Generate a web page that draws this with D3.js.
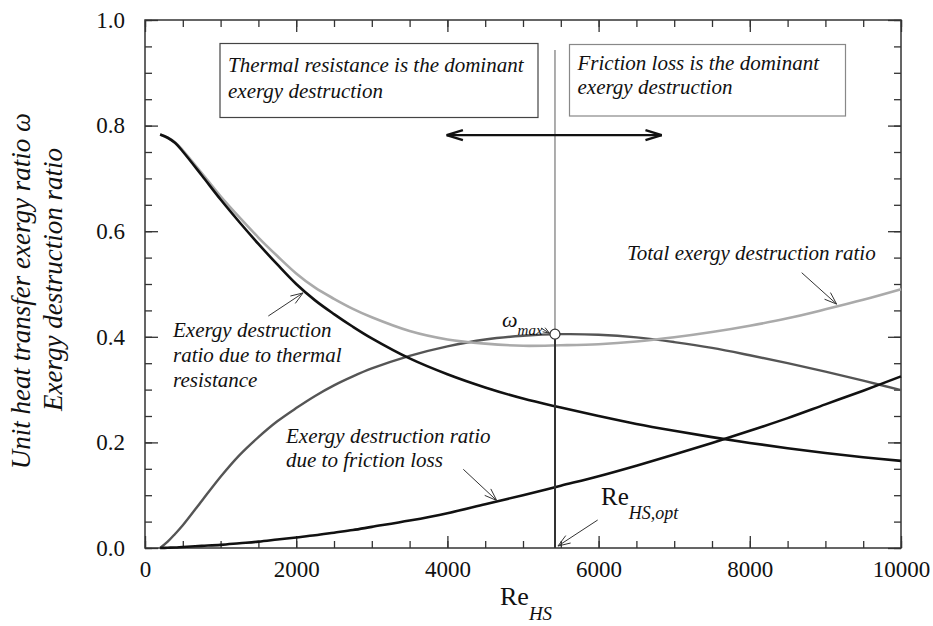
<!DOCTYPE html>
<html>
<head>
<meta charset="utf-8">
<script src="https://cdn.jsdelivr.net/npm/d3@7"></script>
<style>
  body { margin: 0; background: #fff; }
  svg { display: block; }
</style>
</head>
<body>
<svg id="chart" width="933" height="626"></svg>
<script>
// Reynolds numbers of the heat sink at which the ratios are given
const reValues = [200, 300, 400, 500, 750, 1000, 1250, 1500, 1750, 2000, 2250, 2500, 2750, 3000, 3500,
  4000, 4500, 5000, 5500, 6000, 6500, 7000, 7500, 8000, 8500, 9000, 9500, 10000];
// Exergy destruction ratio due to thermal resistance
const thermalRatio = [0.783, 0.777, 0.767, 0.751, 0.706, 0.660, 0.617, 0.576, 0.537, 0.500, 0.469, 0.443,
  0.419, 0.397, 0.359, 0.329, 0.304, 0.283, 0.266, 0.250, 0.235, 0.222, 0.210, 0.199, 0.189, 0.180, 0.172, 0.165];
// Exergy destruction ratio due to friction loss
const frictionRatio = [0.000, 0.0005, 0.001, 0.002, 0.004, 0.006, 0.009, 0.012, 0.016, 0.020, 0.024, 0.029,
  0.034, 0.040, 0.052, 0.066, 0.083, 0.100, 0.118, 0.136, 0.156, 0.177, 0.199, 0.222, 0.246, 0.272, 0.298, 0.325];
// Total exergy destruction ratio
const totalRatio = [0.783, 0.777, 0.768, 0.753, 0.710, 0.666, 0.626, 0.588, 0.553, 0.520, 0.493, 0.472,
  0.453, 0.437, 0.411, 0.395, 0.387, 0.383, 0.384, 0.386, 0.391, 0.399, 0.409, 0.421, 0.435, 0.452, 0.470, 0.490];
// Unit heat transfer exergy ratio omega
const omegaRatio = [0.000, 0.012, 0.027, 0.043, 0.089, 0.135, 0.176, 0.210, 0.240, 0.265, 0.288, 0.308,
  0.325, 0.340, 0.364, 0.382, 0.395, 0.402, 0.405, 0.404, 0.399, 0.390, 0.379, 0.365, 0.350, 0.334, 0.317, 0.299];

const xTickValues = [0, 2000, 4000, 6000, 8000, 10000];
const yTickValues = [0.0, 0.2, 0.4, 0.6, 0.8, 1.0];
const reOpt = 5423;      // optimum Reynolds number
const omegaMax = 0.405;  // maximum unit heat transfer exergy ratio

const serif = '"Liberation Serif", "DejaVu Serif", "Times New Roman", serif';
const svg = d3.select("#chart").style("font-family", serif);
const x = d3.scaleLinear().domain([0, 10000]).range([145, 901]);
const y = d3.scaleLinear().domain([0, 1]).range([548, 20]);

const frameColor = "#333";

// ---- axes: inward major and minor ticks on all four sides ----
function styleAxis(g) {
  g.attr("font-family", null);
  g.select(".domain").remove();
  g.selectAll(".tick line").attr("stroke", frameColor).attr("stroke-width", 1.3);
  g.selectAll(".tick text").style("font-family", serif).style("font-size", "23px").attr("fill", "#111");
}
const minorX = d3.range(0, 10001, 500);
const minorY = d3.range(0, 1.0001, 0.05);

svg.append("g").attr("transform", `translate(0,${y(0)})`)
  .call(d3.axisBottom(x).tickValues(minorX).tickSize(-7).tickFormat(""))
  .call(styleAxis);
svg.append("g").attr("transform", `translate(0,${y(0)})`)
  .call(d3.axisBottom(x).tickValues(xTickValues).tickSize(-12).tickPadding(13).tickFormat(d3.format("d")))
  .call(styleAxis);
svg.append("g").attr("transform", `translate(0,${y(1)})`)
  .call(d3.axisTop(x).tickValues(minorX).tickSize(-7).tickFormat(""))
  .call(styleAxis);
svg.append("g").attr("transform", `translate(0,${y(1)})`)
  .call(d3.axisTop(x).tickValues(xTickValues).tickSize(-12).tickFormat(""))
  .call(styleAxis);

svg.append("g").attr("transform", `translate(${x(0)},0)`)
  .call(d3.axisLeft(y).tickValues(minorY).tickSize(-7).tickFormat(""))
  .call(styleAxis);
svg.append("g").attr("transform", `translate(${x(0)},0)`)
  .call(d3.axisLeft(y).tickValues(yTickValues).tickSize(-13).tickPadding(20).tickFormat(d3.format(".1f")))
  .call(styleAxis);
svg.append("g").attr("transform", `translate(${x(10000)},0)`)
  .call(d3.axisRight(y).tickValues(minorY).tickSize(-7).tickFormat(""))
  .call(styleAxis);
svg.append("g").attr("transform", `translate(${x(10000)},0)`)
  .call(d3.axisRight(y).tickValues(yTickValues).tickSize(-13).tickFormat(""))
  .call(styleAxis);

// plot frame
svg.append("rect")
  .attr("x", x(0)).attr("y", y(1))
  .attr("width", x(10000) - x(0)).attr("height", y(0) - y(1))
  .attr("fill", "none").attr("stroke", frameColor).attr("stroke-width", 1.5);

// ---- curves ----
const line = d3.line().x(d => x(d[0])).y(d => y(d[1])).curve(d3.curveCatmullRom.alpha(0.5));
function drawSeries(values, color, width) {
  svg.append("path")
    .datum(reValues.map((r, i) => [r, values[i]]))
    .attr("fill", "none").attr("stroke", color).attr("stroke-width", width)
    .attr("stroke-linejoin", "round")
    .attr("d", line);
}
drawSeries(omegaRatio, "#555", 2.4);
drawSeries(totalRatio, "#aaa", 2.6);
drawSeries(frictionRatio, "#111", 2.6);
drawSeries(thermalRatio, "#111", 2.6);

// ---- optimum Reynolds number marker ----
svg.append("line")
  .attr("x1", x(reOpt)).attr("x2", x(reOpt))
  .attr("y1", y(omegaMax)).attr("y2", y(0.943))
  .attr("stroke", "#777").attr("stroke-width", 1.2);
svg.append("line")
  .attr("x1", x(reOpt)).attr("x2", x(reOpt))
  .attr("y1", y(0)).attr("y2", y(omegaMax))
  .attr("stroke", "#333").attr("stroke-width", 2);
svg.append("circle")
  .attr("cx", x(reOpt)).attr("cy", y(omegaMax)).attr("r", 5)
  .attr("fill", "#fff").attr("stroke", "#333").attr("stroke-width", 1.2);

// ---- arrow helper: straight shaft with an open V head at (x2,y2) ----
function arrow(x1, y1, x2, y2, opt = {}) {
  const len = opt.len || 13, ang = (opt.ang || 20) * Math.PI / 180;
  const color = opt.color || "#333", w = opt.width || 1;
  const g = svg.append("g").attr("stroke", color).attr("stroke-width", w).attr("fill", "none");
  g.append("line").attr("x1", x1).attr("y1", y1).attr("x2", x2).attr("y2", y2);
  const t = Math.atan2(y1 - y2, x1 - x2);
  [t - ang, t + ang].forEach(a => {
    g.append("line").attr("x1", x2).attr("y1", y2)
      .attr("x2", x2 + len * Math.cos(a)).attr("y2", y2 + len * Math.sin(a));
  });
}

// region arrows on both sides of the optimum
arrow(x(reOpt), y(0.782), x(3990), y(0.782), { len: 17, ang: 17, color: "#111", width: 2.4 });
arrow(x(reOpt), y(0.782), x(6835), y(0.782), { len: 17, ang: 17, color: "#111", width: 2.4 });

// ---- region boxes ----
function textBox(x0, y0, w, h, lines, baselines, stroke) {
  svg.append("rect").attr("x", x0).attr("y", y0).attr("width", w).attr("height", h)
    .attr("fill", "#fff").attr("stroke", stroke).attr("stroke-width", 1.2);
  lines.forEach((t, i) => {
    svg.append("text").attr("x", x0 + 8).attr("y", baselines[i]).attr("fill", "#111")
      .style("font-size", "21px").style("font-style", "italic").text(t);
  });
}
textBox(220, 43.5, 318, 74, ["Thermal resistance is the dominant", "exergy destruction"], [72, 98], "#444");
textBox(569.5, 44.5, 276, 71.5, ["Friction loss is the dominant", "exergy destruction"], [70, 94], "#888");

// ---- curve labels ----
function label(x0, baselines, lines, size = 21) {
  lines.forEach((t, i) => {
    svg.append("text").attr("x", x0).attr("y", baselines[i]).attr("fill", "#111")
      .style("font-size", size + "px").style("font-style", "italic").text(t);
  });
}
label(627, [260], ["Total exergy destruction ratio"]);
arrow(801.7, 272.7, x(9148), y(0.462));

label(173, [337, 362, 387], ["Exergy destruction", "ratio due to thermal", "resistance"]);
arrow(268.3, 316, x(2090), y(0.483));

label(286, [443, 467], ["Exergy destruction ratio", "due to friction loss"]);
arrow(463.3, 469.3, x(4652), y(0.090));

// omega_max label
const om = svg.append("text").attr("x", 502).attr("y", 327).attr("fill", "#111").style("font-style", "italic");
om.append("tspan").style("font-size", "22px").text("ω");
om.append("tspan").attr("dy", 8).style("font-size", "15px").text("max");
arrow(541, 328, x(reOpt) - 5.5, y(omegaMax) - 1, { len: 7 });

// Re_HS,opt label
const ro = svg.append("text").attr("x", 601).attr("y", 505).attr("fill", "#111");
ro.append("tspan").style("font-size", "25px").text("Re");
ro.append("tspan").attr("dy", 14).style("font-size", "18px").style("font-style", "italic").text("HS,opt");
arrow(597.7, 520, x(reOpt) + 3, y(0) - 2, { len: 13 });

// ---- axis titles ----
const xt = svg.append("text").attr("x", 500).attr("y", 605).attr("fill", "#111");
xt.append("tspan").style("font-size", "26px").text("Re");
xt.append("tspan").attr("dy", 15).style("font-size", "19px").style("font-style", "italic").text("HS");

const yt = svg.append("g").attr("transform", "rotate(-90)");
yt.append("text").attr("x", -113).attr("y", 30).attr("text-anchor", "end").attr("fill", "#111")
  .style("font-size", "27px").style("font-style", "italic").text("Unit heat transfer exergy ratio ω");
yt.append("text").attr("x", -148).attr("y", 62).attr("text-anchor", "end").attr("fill", "#111")
  .style("font-size", "27px").style("font-style", "italic").text("Exergy destruction ratio");
</script>
</body>
</html>
